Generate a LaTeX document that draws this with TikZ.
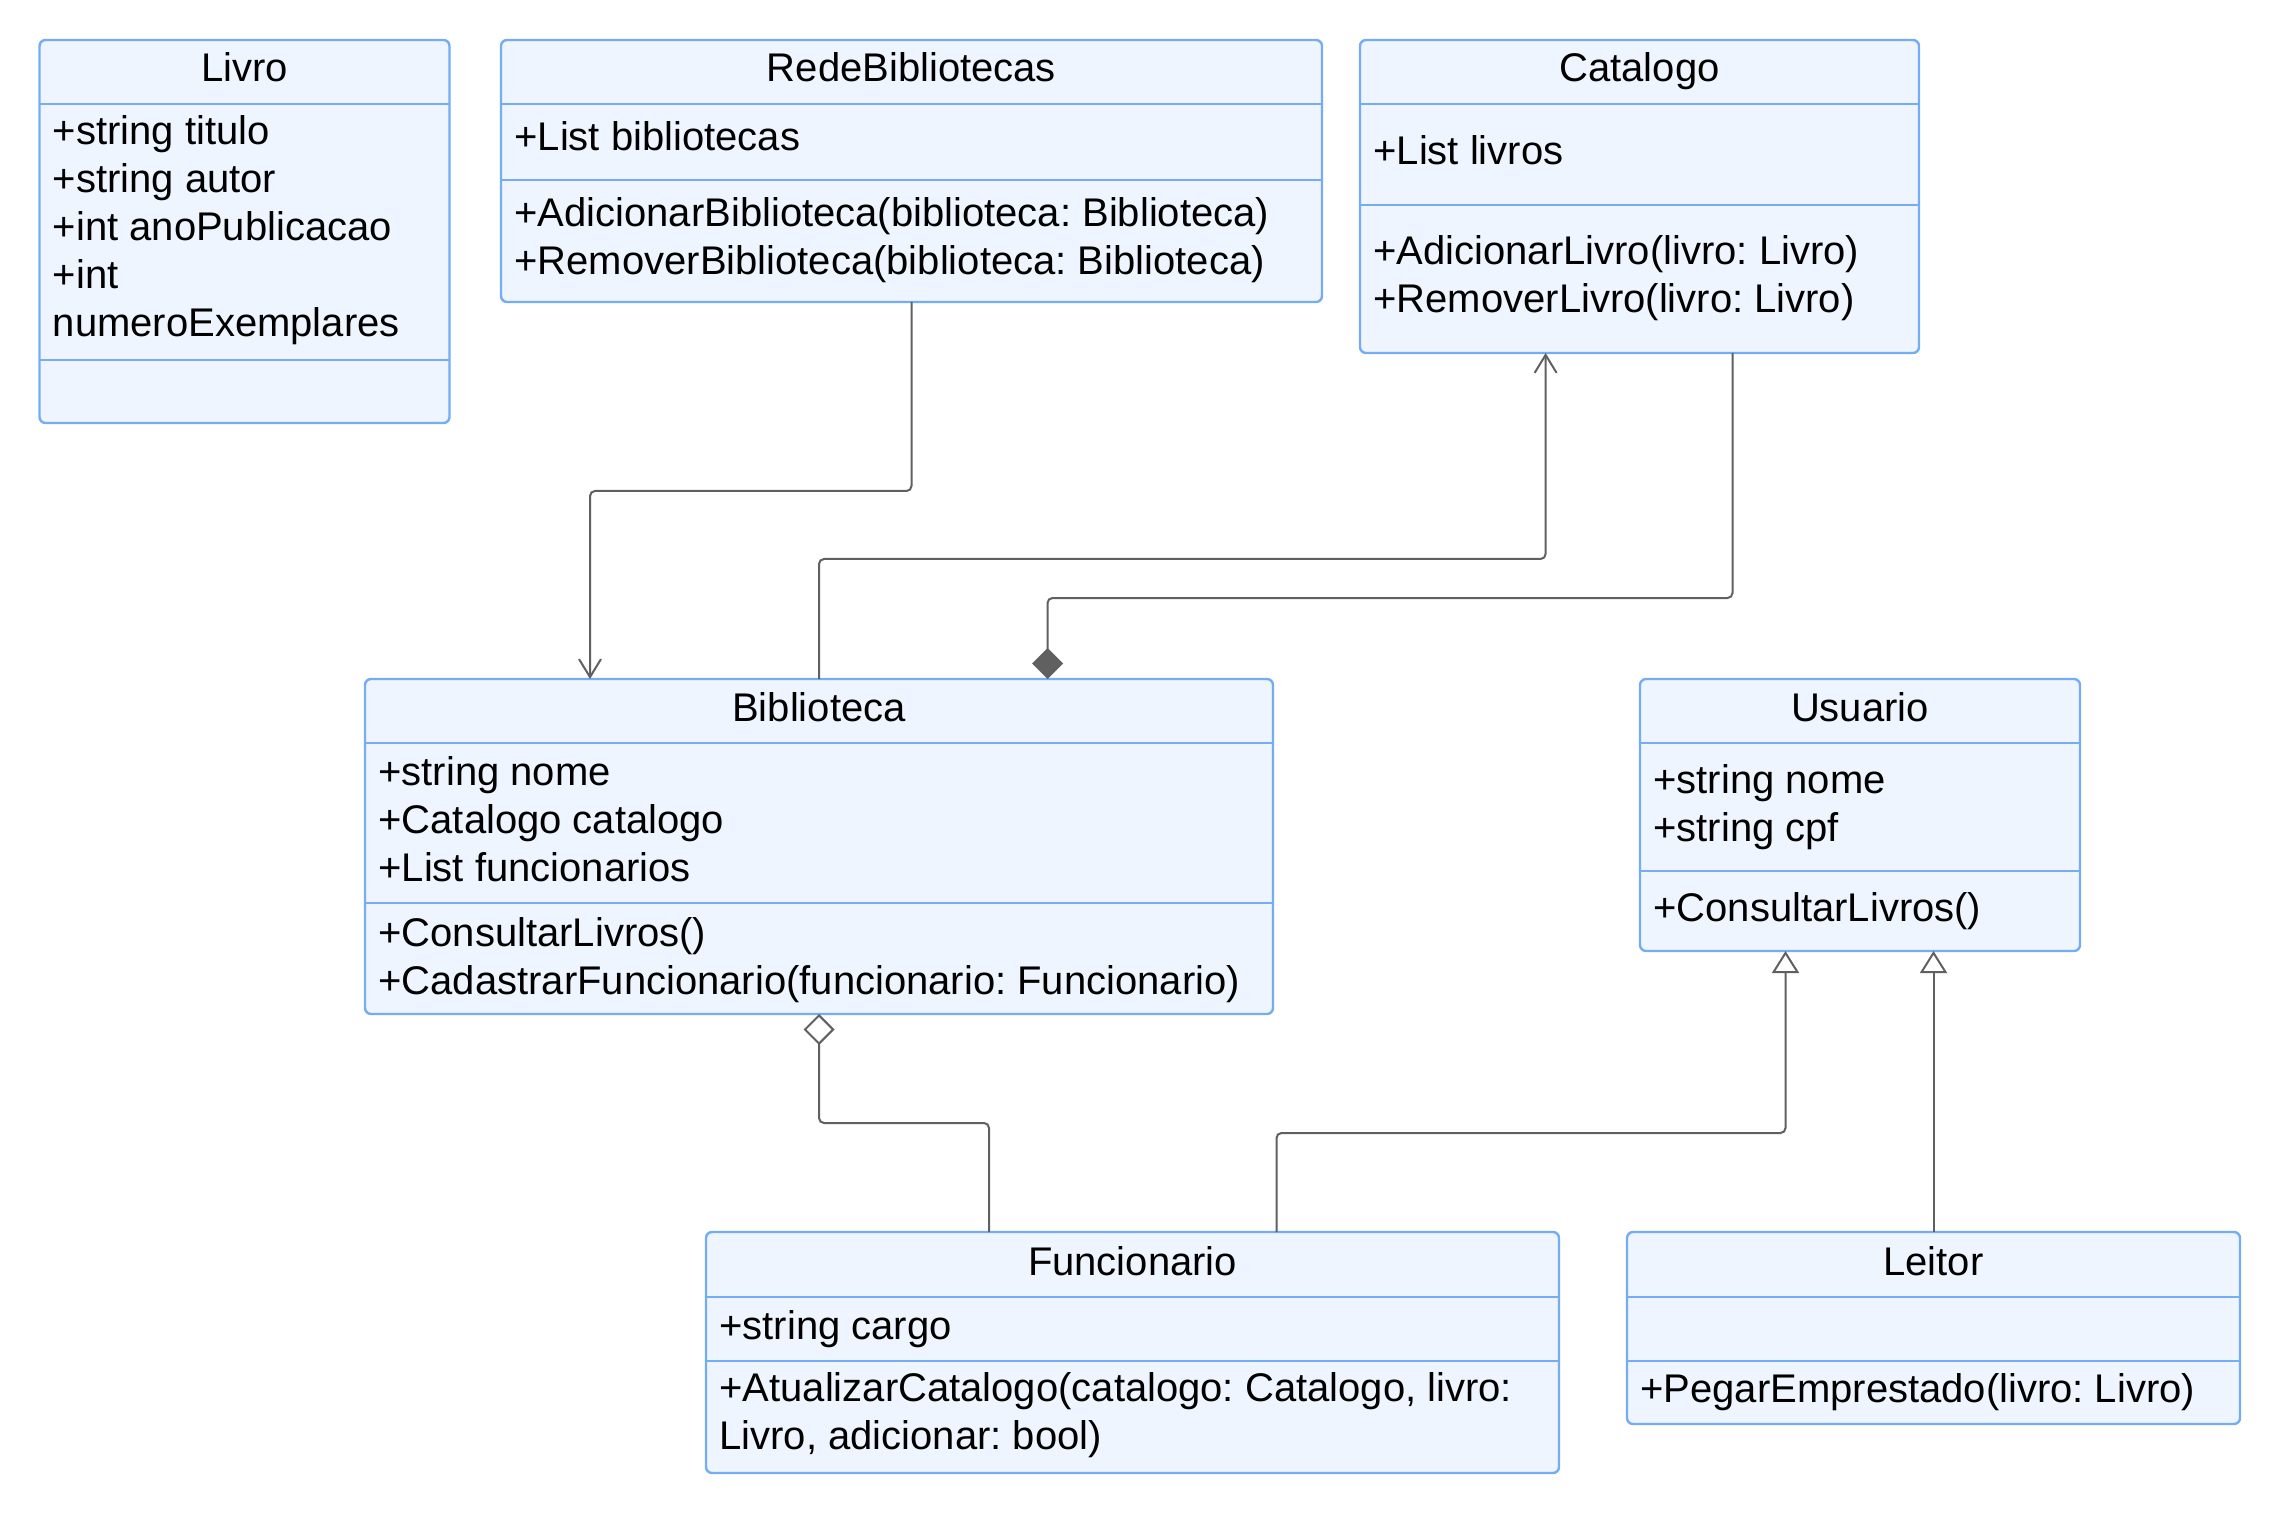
\documentclass[tikz,border=0pt]{standalone}
\usepackage{fontspec}
\setmainfont{Liberation Sans}
\usetikzlibrary{arrows.meta,fit}
\definecolor{boxfill}{HTML}{EEF5FF}
\definecolor{boxline}{HTML}{74ACF6}
\definecolor{connc}{HTML}{606060}
\frenchspacing
\begin{document}
\begin{tikzpicture}[x=0.5pt,y=-0.5pt,
  classbox/.style={draw=boxline, fill=boxfill, line width=1.2pt, rounded corners=3pt, inner sep=0pt, outer sep=0pt},
  divider/.style={draw=boxline, line width=1.2pt},
  ttl/.style={anchor=base, inner sep=0pt, font=\fontsize{20pt}{24pt}\selectfont},
  txt/.style={anchor=base west, inner sep=0pt, font=\fontsize{20pt}{24pt}\selectfont},
  conn/.style={draw=connc, line width=1pt, rounded corners=2.5pt},
  assoc/.style={-{Straight Barb[length=9pt,width=11pt]}},
  comp/.style={-{Diamond[length=15.5pt,width=15.5pt]}},
  agg/.style={{Diamond[open,length=15.5pt,width=15.5pt,fill=white]}-},
  gen/.style={-{Triangle[open,length=11pt,width=13.5pt,fill=white]}}]
\useasboundingbox (0,0) rectangle (2280,1513);

% Livro
\node[classbox, fit={(39.5,40) (449.5,423)}] (livro) {};
\draw[divider] (39.5,104) -- (449.5,104);
\draw[divider] (39.5,360) -- (449.5,360);
\node[ttl] (livro-t) at (244.5,82) {Livro};
\node[txt] (livro-a1) at (52.5,145) {+string titulo};
\node[txt] (livro-a2) at (52.5,193) {+string autor};
\node[txt] (livro-a3) at (52.5,241) {+int anoPublicacao};
\node[txt] (livro-a4) at (52.5,289) {+int};
\node[txt] (livro-a5) at (52.5,337) {numeroExemplares};

% RedeBibliotecas
\node[classbox, fit={(501,40) (1322,302)}] (rede) {};
\draw[divider] (501,104) -- (1322,104);
\draw[divider] (501,180) -- (1322,180);
\node[ttl] (rede-t) at (911.5,82) {RedeBibliotecas};
\node[txt] (rede-a1) at (514,151) {+List bibliotecas};
\node[txt] (rede-m1) at (514,227) {+AdicionarBiblioteca(biblioteca: Biblioteca)};
\node[txt] (rede-m2) at (514,275) {+RemoverBiblioteca(biblioteca: Biblioteca)};

% Catalogo
\node[classbox, fit={(1360,40) (1919,353)}] (cat) {};
\draw[divider] (1360,104) -- (1919,104);
\draw[divider] (1360,205) -- (1919,205);
\node[ttl] (cat-t) at (1639.5,82) {Catalogo};
\node[txt] (cat-a1) at (1373,165) {+List livros};
\node[txt] (cat-m1) at (1373,265) {+AdicionarLivro(livro: Livro)};
\node[txt] (cat-m2) at (1373,313) {+RemoverLivro(livro: Livro)};

% Biblioteca
\node[classbox, fit={(365,679) (1273,1014)}] (bib) {};
\draw[divider] (365,743) -- (1273,743);
\draw[divider] (365,903) -- (1273,903);
\node[ttl] (bib-t) at (819,721) {Biblioteca};
\node[txt] (bib-a1) at (378,785) {+string nome};
\node[txt] (bib-a2) at (378,833) {+Catalogo catalogo};
\node[txt] (bib-a3) at (378,881) {+List funcionarios};
\node[txt] (bib-m1) at (378,946) {+ConsultarLivros()};
\node[txt] (bib-m2) at (378,994) {+CadastrarFuncionario(funcionario: Funcionario)};

% Usuario
\node[classbox, fit={(1640,679) (2080,951)}] (usu) {};
\draw[divider] (1640,743) -- (2080,743);
\draw[divider] (1640,871) -- (2080,871);
\node[ttl] (usu-t) at (1860,721) {Usuario};
\node[txt] (usu-a1) at (1653,793) {+string nome};
\node[txt] (usu-a2) at (1653,841) {+string cpf};
\node[txt] (usu-m1) at (1653,921) {+ConsultarLivros()};

% Funcionario
\node[classbox, fit={(706,1232) (1559,1473)}] (fun) {};
\draw[divider] (706,1297) -- (1559,1297);
\draw[divider] (706,1361) -- (1559,1361);
\node[ttl] (fun-t) at (1132.5,1275) {Funcionario};
\node[txt] (fun-a1) at (719,1339) {+string cargo};
\node[txt] (fun-m1) at (719,1401) {+AtualizarCatalogo(catalogo: Catalogo, livro:};
\node[txt] (fun-m2) at (719,1449) {Livro, adicionar: bool)};

% Leitor
\node[classbox, fit={(1627,1232) (2240,1424)}] (lei) {};
\draw[divider] (1627,1297) -- (2240,1297);
\draw[divider] (1627,1361) -- (2240,1361);
\node[ttl] (lei-t) at (1933.5,1275) {Leitor};
\node[txt] (lei-m1) at (1640,1402) {+PegarEmprestado(livro: Livro)};

% connectors
\coordinate (k1) at (590,491);
\draw[conn,assoc] (rede.south) |- (k1) -- (bib.north -| k1);
\coordinate (k2) at (1545.6,559);
\draw[conn,assoc] (bib.north) |- (k2) -- (cat.south -| k2);
\coordinate (k3) at (1732.5,598);
\coordinate (k4) at (1047.5,598);
\draw[conn,comp] (cat.south -| k3) -- (k3) -- (k4) -- (bib.north -| k4);
\coordinate (k5) at (989,1123);
\draw[conn,agg] (bib.south) |- (k5) -- (fun.north -| k5);
\coordinate (k6) at (1276.5,1133);
\coordinate (k7) at (1785.5,1133);
\draw[conn,gen] (fun.north -| k6) -- (k6) -- (k7) -- (usu.south -| k7);
\draw[conn,gen] (lei.north) -- (usu.south -| lei.north);
\end{tikzpicture}
\end{document}
